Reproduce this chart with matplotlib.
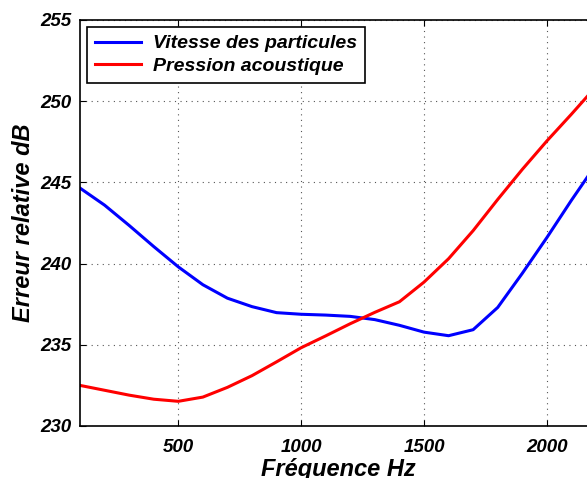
import matplotlib
matplotlib.use('Agg')
import matplotlib.pyplot as plt

# Fréquences (Hz) et erreurs relatives (dB)
freq = [100, 200, 300, 400, 500, 600, 700, 800, 900, 1000, 1100,
        1200, 1300, 1400, 1500, 1600, 1700, 1800, 1900, 2000, 2100, 2200]
vitesse = [244.65, 243.6, 242.35, 241.05, 239.8, 238.7, 237.87, 237.35, 236.98, 236.88, 236.83,
           236.75, 236.55, 236.2, 235.78, 235.56, 235.93, 237.3, 239.4, 241.6, 243.9, 246.1]
pression = [232.5, 232.2, 231.9, 231.65, 231.52, 231.78, 232.38, 233.1, 233.95, 234.82, 235.55,
            236.3, 237.0, 237.65, 238.86, 240.3, 242.03, 243.95, 245.8, 247.55, 249.2, 250.9]
xticks = [500, 1000, 1500, 2000]
yticks = [230, 235, 240, 245, 250, 255]

plt.rcParams['font.family'] = ['Liberation Sans', 'DejaVu Sans']
plt.rcParams['font.weight'] = 'bold'
plt.rcParams['font.style'] = 'italic'

fig = plt.figure(figsize=(5.87, 4.78), dpi=100)
ax = fig.add_axes([80 / 587, 52 / 478, 516 / 587, 406 / 478])

ax.plot(freq, vitesse, color='#0000ff', lw=2.2, label='Vitesse des particules')
ax.plot(freq, pression, color='#ff0000', lw=2.2, label='Pression acoustique')

ax.set_xlim(100, 2200)
ax.set_ylim(230, 255)
ax.set_xticks(xticks)
ax.set_yticks(yticks)
ax.tick_params(direction='in', top=True, right=True, length=4, width=0.8,
               labelsize=13.5, pad=6)
ax.tick_params(axis='x', pad=9)
for lbl in ax.get_xticklabels() + ax.get_yticklabels():
    lbl.set_fontweight('bold')
    lbl.set_fontstyle('italic')

ax.grid(True, linestyle=(0, (1, 4)), color='#555555', linewidth=0.8)
for s in ax.spines.values():
    s.set_linewidth(1.2)

ax.set_xlabel('Fréquence Hz', fontsize=17, fontweight='bold', fontstyle='italic', labelpad=2)
ax.set_ylabel('Erreur relative dB', fontsize=17, fontweight='bold', fontstyle='italic', labelpad=4)

leg = ax.legend(loc='upper left', bbox_to_anchor=(87 / 587, 1 - 27 / 478),
                bbox_transform=fig.transFigure, borderaxespad=0, fancybox=False,
                framealpha=1, edgecolor='black', handlelength=2.4, handletextpad=0.6,
                borderpad=0.4, labelspacing=0.25,
                prop={'size': 14, 'weight': 'bold', 'style': 'italic'})
leg.get_frame().set_linewidth(1.2)

fig.savefig('out.png', dpi=100)
